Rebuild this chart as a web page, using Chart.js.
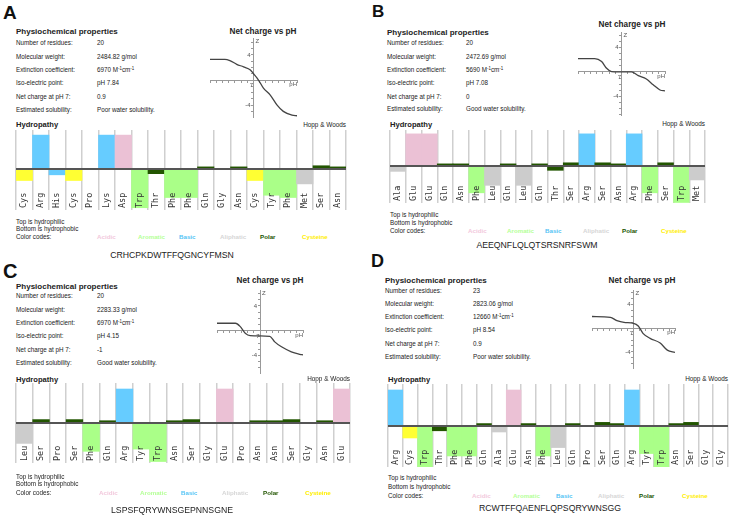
<!DOCTYPE html>
<html>
<head>
<meta charset="utf-8">
<script src="https://cdn.jsdelivr.net/npm/chart.js@4.4.1/dist/chart.umd.min.js"></script>
<style>
  html, body { margin: 0; padding: 0; background: #fff; }
  body { width: 731px; height: 518px; position: relative; overflow: hidden;
         font-family: "Liberation Sans", Arial, sans-serif; color: #222; }
  .t { position: absolute; white-space: nowrap; line-height: 1; }
  .t sup { font-size: 0.7em; vertical-align: 0.45em; line-height: 0; }
  canvas { position: absolute; }
</style>
</head>
<body>
<script>
// ============================================
// DATA
// ============================================

const propLabels = ['Number of residues:', 'Molecular weight:', 'Extinction coefficient:',
                    'Iso-electric point:', 'Net charge at pH 7:', 'Estimated solubility:'];
const propsA = ['20', '2484.82 g/mol', '6970 M<sup>-1</sup>cm<sup>-1</sup>', 'pH 7.84', '0.9', 'Poor water solubility.'];
const propsB = ['20', '2472.69 g/mol', '5690 M<sup>-1</sup>cm<sup>-1</sup>', 'pH 7.08', '0', 'Good water solubility.'];
const propsC = ['20', '2283.33 g/mol', '6970 M<sup>-1</sup>cm<sup>-1</sup>', 'pH 4.15', '-1', 'Good water solubility.'];
const propsD = ['23', '2823.06 g/mol', '12660 M<sup>-1</sup>cm<sup>-1</sup>', 'pH 8.54', '0.9', 'Poor water solubility.'];

const seqA = 'CRHCPKDWTFFQGNCYFMSN';
const seqB = 'AEEQNFLQLQTSRSNRFSWM';
const seqC = 'LSPSFQRYWNSGEPNNSGNE';
const seqD = 'RCWTFFQAENFLQPSQRYWNSGG';

// hydropathy (Hopp & Woods) per residue
const residuesA = ['Cys','Arg','His','Cys','Pro','Lys','Asp','Trp','Thr','Phe','Phe','Gln','Gly','Asn','Cys','Tyr','Phe','Met','Ser','Asn'];
const hydroA = [-1.0, 3.0, -0.5, -1.0, 0.0, 3.0, 3.0, -3.4, -0.4, -2.5, -2.5, 0.2, 0.0, 0.2, -1.0, -2.3, -2.5, -1.3, 0.3, 0.2];
const residuesB = ['Ala','Glu','Glu','Gln','Asn','Phe','Leu','Gln','Leu','Gln','Thr','Ser','Arg','Ser','Asn','Arg','Phe','Ser','Trp','Met'];
const hydroB = [-0.5, 3.0, 3.0, 0.2, 0.2, -2.5, -1.8, 0.2, -1.8, 0.2, -0.4, 0.3, 3.0, 0.3, 0.2, 3.0, -2.5, 0.3, -3.4, -1.3];
const residuesC = ['Leu','Ser','Pro','Ser','Phe','Gln','Arg','Tyr','Trp','Asn','Ser','Gly','Glu','Pro','Asn','Asn','Ser','Gly','Asn','Glu'];
const hydroC = [-1.8, 0.3, 0.0, 0.3, -2.5, 0.2, 3.0, -2.3, -3.4, 0.2, 0.3, 0.0, 3.0, 0.0, 0.2, 0.2, 0.3, 0.0, 0.2, 3.0];
const residuesD = ['Arg','Cys','Trp','Thr','Phe','Phe','Gln','Ala','Glu','Asn','Phe','Leu','Gln','Pro','Ser','Gln','Arg','Tyr','Trp','Asn','Ser','Gly','Gly'];
const hydroD = [3.0, -1.0, -3.4, -0.4, -2.5, -2.5, 0.2, -0.5, 3.0, 0.2, -2.5, -1.8, 0.2, 0.0, 0.3, 0.2, 3.0, -2.3, -3.4, 0.2, 0.3, 0.0, 0.0];

// net charge vs pH curves
const phA = [0, 2.4, 3.2, 4.3, 5.4, 6.5, 7.0, 7.8, 8.6, 9.7, 10.8, 11.8, 13.2, 14];
const chargeA = [3.3, 3.3, 3.1, 2.5, 2.1, 1.6, 1.0, 0.0, -1.3, -2.4, -4.0, -5.0, -5.6, -5.7];
const phB = [0, 2.7, 3.8, 4.6, 5.4, 6.5, 8.6, 9.7, 11.0, 12.1, 13.2, 14];
const chargeB = [2.2, 2.2, 1.7, 0.6, 0.05, 0.0, 0.0, -0.6, -1.15, -2.1, -2.95, -3.1];
const phC = [0, 3.0, 3.8, 4.6, 5.4, 7.0, 8.6, 9.4, 10.5, 12.1, 13.5, 14];
const chargeC = [1.2, 1.2, 0.65, -0.4, -0.8, -0.85, -0.9, -1.8, -2.6, -3.4, -3.8, -3.9];
const phD = [0, 3.1, 4.2, 5.4, 7.0, 7.8, 8.6, 9.8, 11.5, 12.7, 14];
const chargeD = [2.0, 1.85, 1.3, 1.0, 0.85, 0.4, -0.85, -1.7, -2.5, -3.7, -4.1];

// labelled ticks on the crossing axes
const chargeTickLabels = [4, -4];
const phTickLabels = [7];

const legendNames = ['Acidic', 'Aromatic', 'Basic', 'Aliphatic', 'Polar', 'Cysteine'];

// ============================================
// STYLE
// ============================================

const classColors = {
    Acidic: '#ebc1d5', Aromatic: '#aaff88', Basic: '#66ccff',
    Aliphatic: '#cccccc', Polar: '#225500', Cysteine: '#ffff33'
};
const legendColors = {
    Acidic: '#f2c8dc', Aromatic: '#b4ff96', Basic: '#55c4f5',
    Aliphatic: '#d6d6d6', Polar: '#225500', Cysteine: '#ffee00'
};
const residueClass = {
    Asp: 'Acidic', Glu: 'Acidic',
    Arg: 'Basic', Lys: 'Basic', His: 'Basic',
    Phe: 'Aromatic', Trp: 'Aromatic', Tyr: 'Aromatic',
    Ala: 'Aliphatic', Leu: 'Aliphatic', Ile: 'Aliphatic', Val: 'Aliphatic', Met: 'Aliphatic', Pro: 'Aliphatic', Gly: 'Aliphatic',
    Ser: 'Polar', Thr: 'Polar', Asn: 'Polar', Gln: 'Polar',
    Cys: 'Cysteine'
};

// layout of each panel (page pixels)
const panels = [
    { letter: 'A', lx: 3, ly: 12, lsize: 19, props: propsA, px: 16, vx: 97, ptitle: 31.5,
      rows: [42.7, 56.7, 70, 83.3, 96.7, 109.7],
      net: { title: [263, 31.7], L: 210, R: 297, T: 38, B: 117, min: -5.9, max: 6.7, ph: phA, z: chargeA },
      hyd: { L: 16, R: 346, T: 130, B: 210, min: -3.6, max: 3.45, head: 125, names: residuesA, vals: hydroA },
      notes: [221.7, 229.3, 237.3], legend: [97, 138, 179, 220, 260, 302], seq: seqA, seqPos: [172, 255] },
    { letter: 'B', lx: 372, ly: 11, lsize: 17, props: propsB, px: 387, vx: 466, ptitle: 33.3,
      rows: [43.3, 56.7, 70, 83.3, 96.7, 109],
      net: { title: [632, 25], L: 578, R: 665, T: 32, B: 115, min: -7.05, max: 6.55, ph: phB, z: chargeB },
      hyd: { L: 390, R: 705, T: 130, B: 203, min: -3.45, max: 3.36, head: 124.3, names: residuesB, vals: hydroB },
      notes: [215, 222.7, 230.7], legend: [468, 507, 545, 583, 622, 661], seq: seqB, seqPos: [537, 245] },
    { letter: 'C', lx: 3, ly: 270.5, lsize: 20, props: propsC, px: 16, vx: 97, ptitle: 287,
      rows: [296.3, 309.7, 323, 336.3, 349.7, 363],
      net: { title: [270, 281], L: 217, R: 303, T: 290, B: 373, min: -6.82, max: 6.56, ph: phC, z: chargeC },
      hyd: { L: 16, R: 350, T: 383, B: 463, min: -3.53, max: 3.53, head: 379.3, names: residuesC, vals: hydroC },
      notes: [476.7, 484.3, 492.7], legend: [99, 140, 181, 222, 263, 305], seq: seqC, seqPos: [172, 510] },
    { letter: 'D', lx: 371, ly: 261, lsize: 18, props: propsD, px: 385, vx: 473, ptitle: 280.7,
      rows: [291, 303.7, 317.3, 330.3, 343.7, 357],
      net: { title: [642, 281], L: 592, R: 675, T: 290, B: 368, min: -6.73, max: 6.49, ph: phD, z: chargeD },
      hyd: { L: 388, R: 728, T: 384, B: 467, min: -3.42, max: 3.5, head: 379.3, names: residuesD, vals: hydroD },
      notes: [478.3, 486.7, 495.7], legend: [472, 513, 556, 598, 639, 682], seq: seqD, seqPos: [550, 508.3] }
];

// ============================================
// HELPERS
// ============================================

function txt(str, x, cy, size, opts = {}) {
    const d = document.createElement('div');
    d.className = 't';
    d.innerHTML = str;
    d.style.left = x + 'px';
    d.style.top = (cy - size / 2) + 'px';
    d.style.fontSize = size + 'px';
    if (opts.bold) d.style.fontWeight = 'bold';
    if (opts.color) d.style.color = opts.color;
    if (opts.align === 'center') d.style.transform = 'translateX(-50%)';
    if (opts.align === 'right') d.style.transform = 'translateX(-100%)';
    document.body.appendChild(d);
}

function makeCanvas(left, top, w, h) {
    const c = document.createElement('canvas');
    c.width = w; c.height = h;
    c.style.left = left + 'px'; c.style.top = top + 'px';
    c.style.width = w + 'px'; c.style.height = h + 'px';
    document.body.appendChild(c);
    return c;
}

// one tick per whole unit inside the axis range
function unitTicks(axis) {
    const ticks = [];
    for (let v = Math.ceil(axis.min); v <= Math.floor(axis.max); v++) ticks.push({ value: v });
    axis.ticks = ticks;
}

// residue names written upright inside the bottom of each column
const residueLabels = {
    id: 'residueLabels',
    afterDraw(chart) {
        const { ctx, chartArea, scales } = chart;
        ctx.save();
        ctx.font = '8.5px "DejaVu Sans Mono", monospace';
        ctx.fillStyle = '#333';
        ctx.textAlign = 'left';
        ctx.textBaseline = 'middle';
        chart.data.labels.forEach((name, i) => {
            ctx.save();
            ctx.translate(scales.x.getPixelForValue(i), chartArea.bottom - 2);
            ctx.rotate(-Math.PI / 2);
            ctx.fillText(name, 0, 0);
            ctx.restore();
        });
        ctx.restore();
    }
};

// axis names and the few numbered ticks on the crossing axes
const axisNames = {
    id: 'axisNames',
    afterDraw(chart) {
        const { ctx, scales: { x, y } } = chart;
        const x0 = x.getPixelForValue(7);
        const y0 = y.getPixelForValue(0);
        ctx.save();
        ctx.font = '6px "Liberation Sans", Arial';
        ctx.fillStyle = '#555';
        ctx.textBaseline = 'top';
        ctx.textAlign = 'left';
        ctx.fillText('Z', x0 + 2, y.top);
        ctx.textAlign = 'right';
        ctx.fillText('pH', x.right, y0 + 1.5);
        ctx.textAlign = 'center';
        phTickLabels.forEach(v => ctx.fillText(String(v), x.getPixelForValue(v) - 2, y0 + 2.5));
        ctx.textAlign = 'right';
        ctx.textBaseline = 'middle';
        chargeTickLabels.forEach(v => ctx.fillText(String(v), x0 - 3, y.getPixelForValue(v)));
        ctx.restore();
    }
};

// ============================================
// BUILD
// ============================================

function drawNetCharge(n) {
    const padX = 12, padY = 4;
    const c = makeCanvas(n.L - padX, n.T - padY, n.R - n.L + 2 * padX, n.B - n.T + 2 * padY);
    const axisStyle = {
        border: { color: '#999', width: 1 },
        grid: { drawOnChartArea: false, drawTicks: true, tickLength: 2, color: '#999' },
        ticks: { display: false },
        afterBuildTicks: unitTicks
    };
    new Chart(c.getContext('2d'), {
        type: 'line',
        data: {
            datasets: [{
                data: n.ph.map((p, i) => ({ x: p, y: n.z[i] })),
                borderColor: '#444',
                borderWidth: 1.3,
                pointRadius: 0,
                cubicInterpolationMode: 'monotone',
                fill: false
            }]
        },
        options: {
            responsive: false,
            animation: false,
            layout: { padding: { left: padX, right: padX, top: padY, bottom: padY } },
            plugins: { legend: { display: false }, tooltip: { enabled: false } },
            scales: {
                x: { type: 'linear', min: 0, max: 14, position: { y: 0 }, ...axisStyle },
                y: { type: 'linear', min: n.min, max: n.max, position: { x: 7 }, ...axisStyle }
            }
        },
        plugins: [axisNames]
    });
}

function drawHydropathy(h) {
    const c = makeCanvas(h.L - 2, h.T, h.R - h.L + 4, h.B - h.T);
    new Chart(c.getContext('2d'), {
        type: 'bar',
        data: {
            labels: h.names,
            datasets: [{
                data: h.vals,
                backgroundColor: h.names.map(r => classColors[residueClass[r]]),
                borderWidth: 0,
                barPercentage: 1,
                categoryPercentage: 1
            }]
        },
        options: {
            responsive: false,
            animation: false,
            layout: { padding: { left: 2, right: 2, top: 0, bottom: 0 } },
            plugins: { legend: { display: false }, tooltip: { enabled: false } },
            scales: {
                x: {
                    ticks: { display: false },
                    border: { display: false },
                    grid: { offset: true, drawTicks: false, color: '#cfcfcf', lineWidth: 1.5 }
                },
                y: {
                    min: h.min, max: h.max,
                    ticks: { display: false, stepSize: 1 },
                    border: { display: false },
                    grid: { drawTicks: false, z: 1, lineWidth: 2,
                            color: ctx => (ctx.tick && ctx.tick.value === 0 ? '#555' : 'rgba(0,0,0,0)') }
                }
            }
        },
        plugins: [residueLabels]
    });
}

panels.forEach(p => {
    txt(p.letter, p.lx, p.ly, p.lsize, { bold: true, color: '#111' });

    // physiochemical properties
    txt('Physiochemical properties', p.px, p.ptitle, 8, { bold: true });
    propLabels.forEach((lab, i) => {
        txt(lab, p.px, p.rows[i], 6.3);
        txt(p.props[i], p.vx, p.rows[i], 6.3);
    });

    // net charge vs pH
    txt('Net charge vs pH', p.net.title[0], p.net.title[1], 8.2, { bold: true, align: 'center' });
    drawNetCharge(p.net);

    // hydropathy
    txt('Hydropathy', p.hyd.L, p.hyd.head, 7.6, { bold: true });
    txt('Hopp &amp; Woods', p.hyd.R, p.hyd.head, 6.4, { align: 'right' });
    drawHydropathy(p.hyd);

    txt('Top is hydrophilic', p.hyd.L, p.notes[0], 6.3);
    txt('Bottom is hydrophobic', p.hyd.L, p.notes[1], 6.3);
    txt('Color codes:', p.hyd.L, p.notes[2], 6.3);
    legendNames.forEach((name, i) => {
        txt(name, p.legend[i], p.notes[2], 6.2, { bold: true, color: legendColors[name] });
    });

    txt(p.seq, p.seqPos[0], p.seqPos[1], 8.7, { align: 'center' });
});
</script>
</body>
</html>
